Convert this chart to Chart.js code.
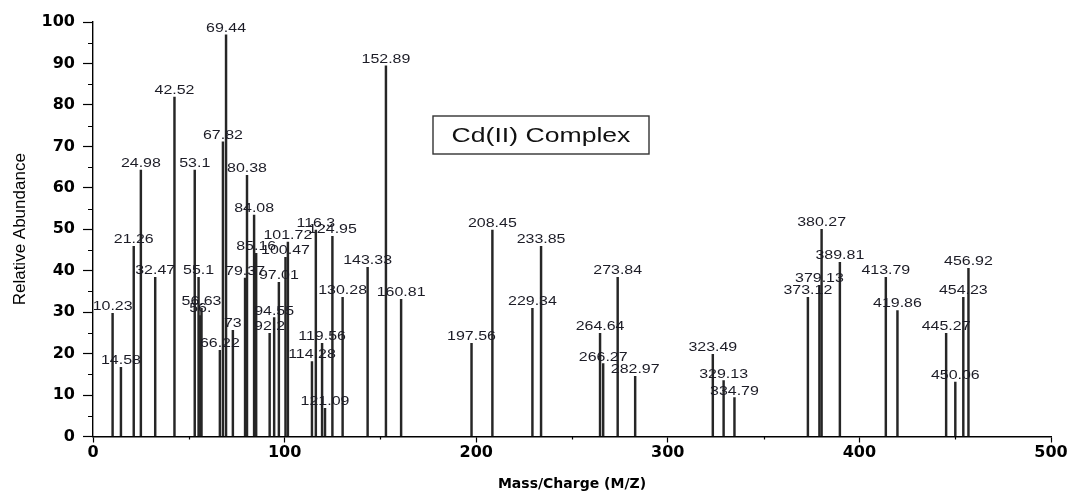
<!DOCTYPE html>
<html>
<head>
<meta charset="utf-8">
<script src="https://cdn.jsdelivr.net/npm/chart.js@4.4.1/dist/chart.umd.min.js"></script>
<style>
  html, body { margin: 0; padding: 0; background: #fff; }
  #wrap { width: 1075px; height: 494px; }
</style>
</head>
<body>
<div id="wrap"><canvas id="chart"></canvas></div>
<script>
// peak positions (m/z) and their relative abundance
const mzValues = [10.23, 14.58, 21.26, 24.98, 32.47, 42.52, 53.1, 55.1, 56.0, 56.63,
  66.22, 67.82, 69.44, 73, 79.37, 80.38, 84.08, 85.16, 92.2, 94.55,
  97.01, 100.47, 101.72, 114.28, 116.3, 119.56, 121.09, 124.95, 130.28, 143.33,
  152.89, 160.81, 197.56, 208.45, 229.34, 233.85, 264.64, 266.27, 273.84, 282.97,
  323.49, 329.13, 334.79, 373.12, 379.13, 380.27, 389.81, 413.79, 419.86, 445.27,
  450.06, 454.23, 456.92];
const abundances = [29.7, 16.7, 45.9, 64.3, 38.4, 81.9, 64.3, 38.4, 29.2, 30.9,
  20.8, 71.1, 96.9, 25.6, 38.2, 63.0, 53.4, 44.2, 24.9, 28.7,
  37.2, 43.2, 46.9, 18.1, 49.8, 22.5, 6.8, 48.3, 33.6, 40.8,
  89.4, 33.1, 22.5, 49.8, 30.9, 45.9, 24.9, 17.6, 38.4, 14.5,
  19.8, 13.5, 9.4, 33.6, 36.5, 50.0, 42.0, 38.4, 30.4, 24.9,
  13.1, 33.6, 40.6];
const peakLabels = ["10.23", "14.58", "21.26", "24.98", "32.47", "42.52", "53.1", "55.1", "56.", "56.63",
  "66.22", "67.82", "69.44", "73", "79.37", "80.38", "84.08", "85.16", "92.2", "94.55",
  "97.01", "100.47", "101.72", "114.28", "116.3", "119.56", "121.09", "124.95", "130.28", "143.33",
  "152.89", "160.81", "197.56", "208.45", "229.34", "233.85", "264.64", "266.27", "273.84", "282.97",
  "323.49", "329.13", "334.79", "373.12", "379.13", "380.27", "389.81", "413.79", "419.86", "445.27",
  "450.06", "454.23", "456.92"];
const xTicks = [0, 100, 200, 300, 400, 500];
const yTicks = [0, 10, 20, 30, 40, 50, 60, 70, 80, 90, 100];
const legendText = "Cd(II) Complex";

// wide-ish text, the whole figure is a bit stretched sideways
const STRETCH = 1.33;

function stretchedText(ctx, text, x, y, font, color) {
  ctx.save();
  ctx.font = font;
  ctx.fillStyle = color;
  ctx.textAlign = "center";
  ctx.textBaseline = "alphabetic";
  ctx.translate(x, y);
  ctx.scale(STRETCH, 1);
  ctx.fillText(text, 0, 0);
  ctx.restore();
}

// peak numbers on top of each line
const peakLabelPlugin = {
  id: "peakLabels",
  afterDatasetsDraw(chart) {
    const ctx = chart.ctx;
    const xs = chart.scales.x, ys = chart.scales.y;
    mzValues.forEach((mz, i) => {
      const px = xs.getPixelForValue(mz);
      const py = ys.getPixelForValue(abundances[i]);
      stretchedText(ctx, peakLabels[i], px, py - 3, "12px 'Liberation Sans', Arial, sans-serif", "#1c1c26");
    });
  }
};

// the boxed sample name
const legendBoxPlugin = {
  id: "legendBox",
  afterDraw(chart) {
    const ctx = chart.ctx;
    const area = chart.chartArea;
    const left = area.left + 340, top = area.top + 94;
    const w = 216, h = 38;
    ctx.save();
    ctx.strokeStyle = "#333";
    ctx.lineWidth = 1.4;
    ctx.strokeRect(left, top, w, h);
    ctx.restore();
    stretchedText(ctx, legendText, left + w / 2, top + 26, "20px 'Liberation Sans', Arial, sans-serif", "#111");
  }
};

// small in-between ticks (5s on y, 50s on x)
const minorTickPlugin = {
  id: "minorTicks",
  afterDraw(chart) {
    const ctx = chart.ctx;
    const xs = chart.scales.x, ys = chart.scales.y;
    const area = chart.chartArea;
    ctx.save();
    ctx.strokeStyle = "#000";
    ctx.lineWidth = 1.2;
    ctx.beginPath();
    for (let v = 5; v < 100; v += 10) {
      const py = Math.round(ys.getPixelForValue(v)) + 0.5;
      ctx.moveTo(area.left - 5, py);
      ctx.lineTo(area.left, py);
    }
    for (let v = 50; v < 500; v += 100) {
      const px = Math.round(xs.getPixelForValue(v)) + 0.5;
      ctx.moveTo(px, area.bottom);
      ctx.lineTo(px, area.bottom + 3);
    }
    ctx.stroke();
    ctx.restore();
  }
};

const ctx = document.getElementById("chart").getContext("2d");
new Chart(ctx, {
  type: "bar",
  data: {
    datasets: [{
      label: legendText,
      data: mzValues.map((mz, i) => ({ x: mz, y: abundances[i] })),
      backgroundColor: "#262626",
      barThickness: 1.8,
      grouped: false
    }]
  },
  options: {
    responsive: true,
    maintainAspectRatio: false,
    animation: false,
    layout: { padding: { top: 22, right: 24, left: 0, bottom: 0 } },
    plugins: {
      legend: { display: false },
      tooltip: { enabled: false }
    },
    scales: {
      x: {
        type: "linear",
        min: 0,
        max: 500,
        offset: false,
        afterBuildTicks: scale => { scale.ticks = xTicks.map(v => ({ value: v })); },
        afterFit: scale => { scale.height = 57.5; },
        border: { color: "#000", width: 1.4 },
        grid: { offset: false, drawOnChartArea: false, drawTicks: true, tickLength: 6, color: "#000", tickWidth: 1.2 },
        ticks: {
          padding: 1,
          color: "#000",
          maxRotation: 0,
          font: { family: "'DejaVu Sans', sans-serif", weight: "bold", size: 16 }
        },
        title: {
          display: true,
          text: "Mass/Charge (M/Z)",
          color: "#000",
          padding: { top: 0, bottom: 1 },
          font: { family: "'DejaVu Sans', sans-serif", weight: "bold", size: 14 }
        }
      },
      y: {
        min: 0,
        max: 100,
        afterBuildTicks: scale => { scale.ticks = yTicks.map(v => ({ value: v })); },
        afterFit: scale => { scale.width = 93; },
        border: { color: "#000", width: 1.4 },
        grid: { drawOnChartArea: false, drawTicks: true, tickLength: 10, color: "#000", tickWidth: 1.2 },
        ticks: {
          padding: 8,
          color: "#000",
          font: { family: "'DejaVu Sans', sans-serif", weight: "bold", size: 16 }
        },
        title: {
          display: true,
          text: "Relative Abundance",
          color: "#000",
          padding: { top: 10, bottom: 0 },
          font: { family: "'Liberation Sans', Arial, sans-serif", size: 17 }
        }
      }
    }
  },
  plugins: [peakLabelPlugin, legendBoxPlugin, minorTickPlugin]
});
</script>
</body>
</html>
